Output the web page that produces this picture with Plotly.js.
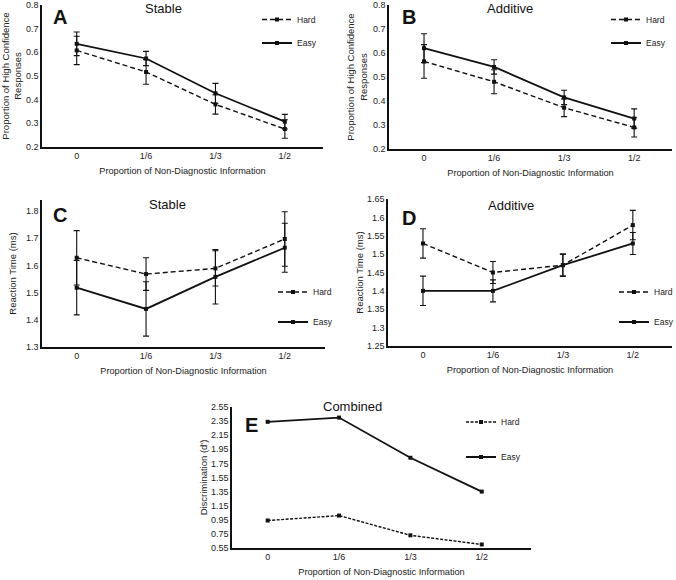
<!DOCTYPE html>
<html>
<head>
<meta charset="utf-8">
<script src="https://cdn.plot.ly/plotly-3.0.1.min.js"></script>
<style>
html,body{margin:0;padding:0;background:#fff;}
#chart{width:676px;height:580px;}
</style>
</head>
<body>
<div id="chart"></div>
<script>
// ---------- data ----------
const categories = ['0', '1/6', '1/3', '1/2'];

// A: Stable – proportion of high confidence responses
const aHard    = [0.608, 0.517, 0.380, 0.276];
const aHardErr = [0.060, 0.052, 0.041, 0.039];
const aEasy    = [0.636, 0.574, 0.427, 0.307];
const aEasyErr = [0.050, 0.030, 0.042, 0.031];

// B: Additive – proportion of high confidence responses
const bHard    = [0.565, 0.480, 0.372, 0.290];
const bHardErr = [0.070, 0.050, 0.037, 0.040];
const bEasy    = [0.620, 0.542, 0.415, 0.327];
const bEasyErr = [0.060, 0.030, 0.030, 0.040];

// C: Stable – reaction time
const cHard    = [1.628, 1.568, 1.589, 1.697];
const cHardErr = [0.100, 0.060, 0.065, 0.100];
const cEasy    = [1.518, 1.440, 1.558, 1.665];
const cEasyErr = [0.100, 0.100, 0.100, 0.090];

// D: Additive – reaction time
const dHard    = [1.529, 1.450, 1.470, 1.579];
const dHardErr = [0.040, 0.030, 0.030, 0.040];
const dEasy    = [1.400, 1.400, 1.470, 1.529];
const dEasyErr = [0.040, 0.030, 0.030, 0.030];

// E: Combined – discrimination d'
const eHard = [0.94, 1.01, 0.73, 0.60];
const eEasy = [2.34, 2.40, 1.83, 1.35];

// tick labels
const abTicks = [0.2, 0.3, 0.4, 0.5, 0.6, 0.7, 0.8];
const abTickText = ['0.2', '0.3', '0.4', '0.5', '0.6', '0.7', '0.8'];
const cTicks = [1.3, 1.4, 1.5, 1.6, 1.7, 1.8];
const cTickText = ['1.3', '1.4', '1.5', '1.6', '1.7', '1.8'];
const dTicks = [1.25, 1.3, 1.35, 1.4, 1.45, 1.5, 1.55, 1.6, 1.65];
const dTickText = ['1.25', '1.3', '1.35', '1.4', '1.45', '1.5', '1.55', '1.6', '1.65'];
const eTicks = [0.55, 0.75, 0.95, 1.15, 1.35, 1.55, 1.75, 1.95, 2.15, 2.35, 2.55];
const eTickText = ['0.55', '0.75', '0.95', '1.15', '1.35', '1.55', '1.75', '1.95', '2.15', '2.35', '2.55'];

const xTitle = 'Proportion of Non-Diagnostic Information';

// ---------- styling ----------
const W = 676, H = 580;
const FONT = '"Liberation Sans", Arial, sans-serif';
const INK = '#111';
const px = v => v / W;
const py = v => 1 - v / H;

function trace(x, y, err, name, xa, ya, leg, hard, dashSpec) {
  const t = {
    x: x, y: y, name: name, type: 'scatter', mode: 'lines+markers',
    xaxis: xa, yaxis: ya, legend: leg,
    line: {color: INK, width: hard ? 1.4 : 1.8, dash: hard ? (dashSpec || '5px,3px') : 'solid'},
    marker: {symbol: 'square', size: 4, color: INK},
    hoverinfo: 'skip'
  };
  if (err) {
    t.error_y = {type: 'data', array: err, visible: true, color: INK, thickness: 1.1, width: 3};
  }
  return t;
}

const data = [
  trace(categories, aHard, aHardErr, 'Hard', 'x', 'y', 'legend', true),
  trace(categories, aEasy, aEasyErr, 'Easy', 'x', 'y', 'legend2', false),
  trace(categories, bHard, bHardErr, 'Hard', 'x2', 'y2', 'legend3', true),
  trace(categories, bEasy, bEasyErr, 'Easy', 'x2', 'y2', 'legend4', false),
  trace(categories, cHard, cHardErr, 'Hard', 'x3', 'y3', 'legend5', true),
  trace(categories, cEasy, cEasyErr, 'Easy', 'x3', 'y3', 'legend6', false),
  trace(categories, dHard, dHardErr, 'Hard', 'x4', 'y4', 'legend7', true),
  trace(categories, dEasy, dEasyErr, 'Easy', 'x4', 'y4', 'legend8', false),
  trace(categories, eHard, null, 'Hard', 'x5', 'y5', 'legend9', true, '3px,1.5px'),
  trace(categories, eEasy, null, 'Easy', 'x5', 'y5', 'legend10', false)
];

function xaxis(x0, x1, anchor, r1) {
  return {
    domain: [px(x0), px(x1)], anchor: anchor, type: 'category',
    range: [-0.5, r1], showline: true, linecolor: INK, linewidth: 1.6,
    showgrid: false, zeroline: false, ticks: '', fixedrange: true,
    tickfont: {size: 9, color: '#222', family: FONT},
    title: {text: xTitle, font: {size: 9.2, color: '#222', family: FONT}, standoff: 7}
  };
}
function yaxis(y0, y1, anchor, range, tv, tt, title, standoff) {
  return {
    domain: [py(y1), py(y0)], anchor: anchor, range: range,
    showline: true, linecolor: INK, linewidth: 1.6,
    showgrid: false, zeroline: false, ticks: '', fixedrange: true,
    tickmode: 'array', tickvals: tv, ticktext: tt,
    tickfont: {size: 9, color: '#222', family: FONT},
    title: {text: title, font: {size: 9.5, color: '#222', family: FONT}, standoff: standoff}
  };
}

// legend text start (px) and vertical centre (px), as in the reference
const legendSpots = {
  legend: [297, 19.5], legend2: [297, 43],
  legend3: [646, 19.5], legend4: [646, 43],
  legend5: [313, 292], legend6: [313, 322],
  legend7: [654, 292], legend8: [654, 322],
  legend9: [501, 422], legend10: [501, 457]
};

function legend(id) {
  const s = legendSpots[id];
  return {
    x: px(s[0] - 40), y: py(s[1]), xanchor: 'left', yanchor: 'middle',
    bgcolor: 'rgba(0,0,0,0)', borderwidth: 0,
    font: {size: 8.5, color: '#222', family: FONT},
    itemwidth: 30
  };
}

function ann(text, x, y, size, bold) {
  return {
    text: bold ? '<b>' + text + '</b>' : text,
    x: px(x), y: py(y), xref: 'paper', yref: 'paper',
    xanchor: 'center', yanchor: 'middle', showarrow: false,
    font: {size: size, color: '#111', family: FONT}
  };
}

const layout = {
  width: W, height: H,
  margin: {l: 0, r: 0, t: 0, b: 0, autoexpand: false},
  paper_bgcolor: '#fff', plot_bgcolor: 'rgba(0,0,0,0)',
  font: {family: FONT, color: '#222'},
  showlegend: true,
  xaxis:  xaxis(42, 323, 'y', 3.55),
  yaxis:  yaxis(5, 147, 'x', [0.2, 0.8], abTicks, abTickText, 'Proportion of High Confidence<br>Responses', 4),
  xaxis2: xaxis(389, 672, 'y2', 3.54),
  yaxis2: yaxis(5, 149, 'x2', [0.2, 0.8], abTicks, abTickText, 'Proportion of High Confidence<br>Responses', 4),
  xaxis3: xaxis(42, 325, 'y3', 3.58),
  yaxis3: yaxis(200, 347, 'x3', [1.3, 1.8404], cTicks, cTickText, 'Reaction Time (ms)', 8),
  xaxis4: xaxis(388, 672, 'y4', 3.56),
  yaxis4: yaxis(199, 346, 'x4', [1.25, 1.65], dTicks, dTickText, 'Reaction Time (ms)', 2),
  xaxis5: xaxis(232, 531, 'y5', 3.69),
  yaxis5: yaxis(407, 548, 'x5', [0.55, 2.55], eTicks, eTickText, "Discrimination (d')", 2),
  annotations: [
    ann('A', 60, 17, 20, true),
    ann('B', 409, 17, 20, true),
    ann('C', 60, 215, 20, true),
    ann('D', 409, 218, 20, true),
    ann('E', 251, 425, 20, true),
    ann('Stable', 163, 9, 13),
    ann('Additive', 510, 9, 13),
    ann('Stable', 167, 204, 13),
    ann('Additive', 511, 205, 13),
    ann('Combined', 353, 406, 13)
  ]
};
Object.keys(legendSpots).forEach(id => { layout[id] = legend(id); });

Plotly.newPlot('chart', data, layout, {staticPlot: true, displayModeBar: false});
</script>
</body>
</html>
